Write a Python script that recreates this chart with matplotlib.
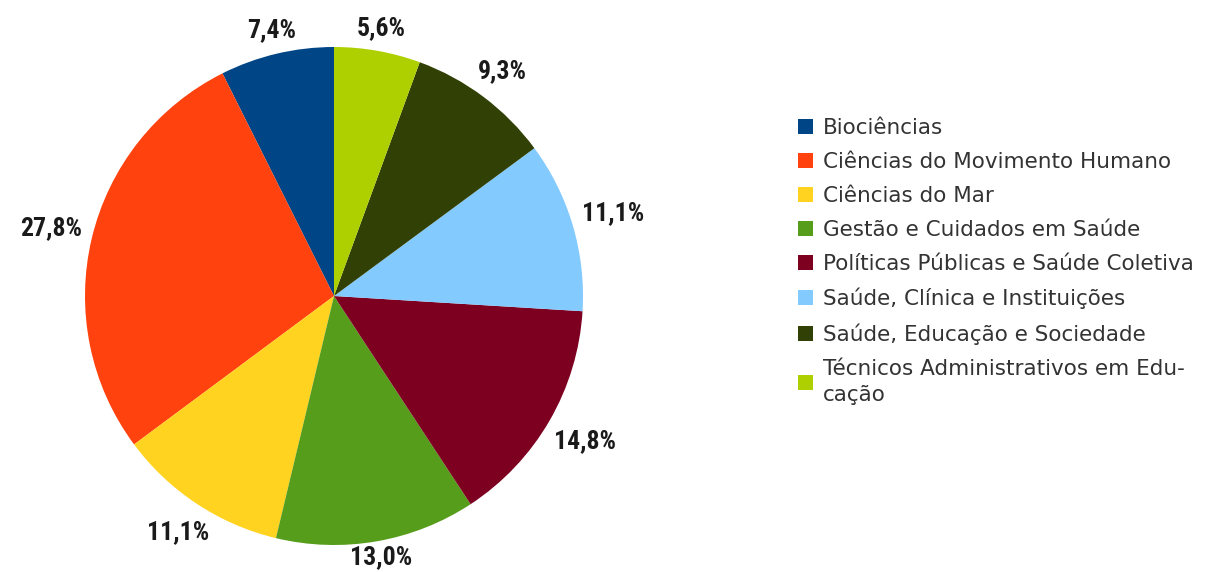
import numpy as np
import matplotlib
matplotlib.use("Agg")
import matplotlib.pyplot as plt

# Data
categories = ["Biociências", "Ciências do Movimento Humano", "Ciências do Mar",
              "Gestão e Cuidados em Saúde", "Políticas Públicas e Saúde Coletiva",
              "Saúde, Clínica e Instituições", "Saúde, Educação e Sociedade",
              "Técnicos Administrativos em Edu-\ncação"]
shares = [7.4, 27.8, 11.1, 13.0, 14.8, 11.1, 9.3, 5.6]
colors = ["#004586", "#ff420e", "#ffd320", "#579d1c", "#7e0021",
          "#83caff", "#314004", "#aecf00"]

fig = plt.figure(figsize=(12.09, 5.72), dpi=100)
ax = fig.add_axes([85 / 1209, (572 - 545) / 572, 498 / 1209, 498 / 572])

wedges, _ = ax.pie(shares, colors=colors, startangle=90, counterclock=True,
                   radius=1.0, wedgeprops=dict(linewidth=0))
ax.set_xlim(-1, 1)
ax.set_ylim(-1, 1)
ax.set_aspect("equal")
ax.axis("off")

# Percentage labels outside, pushed out by their own size
label_font = dict(family=["Roboto Condensed", "DejaVu Sans"],
                  weight="bold", stretch="condensed", size=18.5, color="#1a1a1a")
fig.canvas.draw()
renderer = fig.canvas.get_renderer()
inv = ax.transData.inverted()
for w, v in zip(wedges, shares):
    ang = np.deg2rad((w.theta1 + w.theta2) / 2)
    txt = ax.text(0, 0, ("%.1f%%" % v).replace(".", ","), ha="center",
                  va="center", **label_font)
    bb = txt.get_window_extent(renderer)
    p0 = inv.transform((bb.x0, bb.y0))
    p1 = inv.transform((bb.x1, bb.y1))
    hw = (p1[0] - p0[0]) / 2
    hh = (p1[1] - p0[1]) / 2 * 0.7
    r = 1.04 + hw * abs(np.cos(ang)) + hh * abs(np.sin(ang))
    x, y = r * np.cos(ang), r * np.sin(ang)
    txt.set_position((x, y))
    # keep the label inside the figure
    bb = txt.get_window_extent(renderer)
    if bb.y0 < 3:
        y += (inv.transform((0, 3))[1] - inv.transform((0, bb.y0))[1])
        txt.set_position((x, y))

leg = fig.legend(wedges, categories, loc="upper left",
                 bbox_to_anchor=(798 / 1209, (572 - 118) / 572),
                 frameon=False, fontsize=15.5, handlelength=0.7,
                 handleheight=0.7, handletextpad=0.45, labelspacing=0.65,
                 borderpad=0, borderaxespad=0)
for t in leg.get_texts():
    t.set_color("#333333")
    t.set_linespacing(1.35)

plt.savefig("out.png", dpi=100)
